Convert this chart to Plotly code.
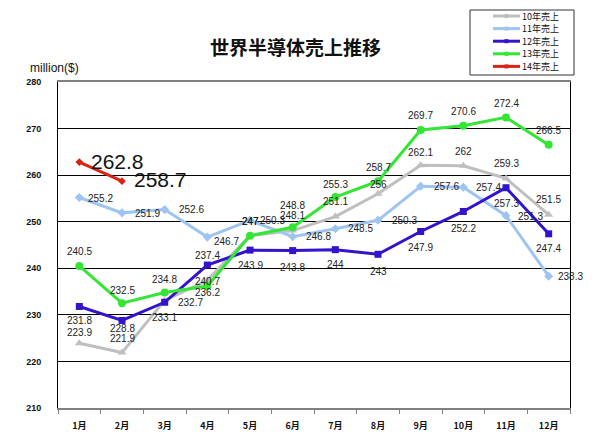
import plotly.graph_objects as go

months = ['1月', '2月', '3月', '4月', '5月', '6月', '7月', '8月', '9月', '10月', '11月', '12月']

sales_10 = [223.9, 221.9, 233.1, 237.4, 247.0, 248.1, 251.1, 256.0, 262.1, 262.0, 259.3, 251.5]
sales_11 = [255.2, 251.9, 252.6, 246.7, 250.3, 246.8, 248.5, 250.3, 257.6, 257.4, 251.3, 238.3]
sales_12 = [231.8, 228.8, 232.7, 240.7, 243.9, 243.8, 244.0, 243.0, 247.9, 252.2, 257.3, 247.4]
sales_13 = [240.5, 232.5, 234.8, 236.2, 247.0, 248.8, 255.3, 258.7, 269.7, 270.6, 272.4, 266.5]
sales_14 = [262.8, 258.7]

series_names = ['10年売上', '11年売上', '12年売上', '13年売上', '14年売上']

W, H = 600, 443
L, R, T, B = 58, 30, 82, 35
PW, PH = W - L - R, H - T - B


def px_x(x):
    return (x - L) / PW


def px_y(y):
    return (H - B - y) / PH


def fmt(v):
    return ('%.1f' % v).rstrip('0').rstrip('.')


num_font = 'Liberation Sans Narrow, Liberation Sans, Arial, sans-serif'
jp_font = 'Noto Sans CJK JP, sans-serif'

# смещения подписей в пикселях: (dx, dy, якорь); dy вниз положительный
C, RT = 'center', 'left'
off_10 = [(0, -11, C), (0, -14, C), (0, 17, C), (0, -25, C), (0, -14, C), (0, -15, C),
          (0, -15, C), (0, -9, C), (0, -13, C), (0, -14, C), (0, -15, C), (0, -15, C)]
off_11 = [(7, 1, RT), (11, 1, RT), (12, 0, RT), (5, 4, RT), (8, 0, RT), (11, 0, RT),
          (11, 0, RT), (12, 0, RT), (11, 0, RT), (11, 0, RT), (10, 1, RT), (7, 0, RT)]
off_12 = [(0, 14, C), (0, 8, C), (11, 0, RT), (0, 16, C), (0, 15, C), (0, 17, C),
          (0, 15, C), (0, 17, C), (0, 16, C), (0, 17, C), (0, 16, C), (0, 15, C)]
off_13 = [(0, -14, C), (0, -13, C), (0, -13, C), (0, 7, C), (0, -14, C), (0, -22, C),
          (0, -13, C), (0, -14, C), (0, -14, C), (0, -14, C), (0, -14, C), (0, -14, C)]
off_14 = [(10, -1, RT), (10, -2, RT)]

styles = [
    dict(data=sales_10, color='#bfbfbf', symbol='triangle-up', size=8, off=off_10),
    dict(data=sales_11, color='#9ec4f2', symbol='diamond', size=7, off=off_11),
    dict(data=sales_12, color='#3314cc', symbol='square', size=7, off=off_12),
    dict(data=sales_13, color='#33e633', symbol='circle', size=8, off=off_13),
    dict(data=sales_14, color='#dd2211', symbol='diamond', size=6, off=off_14),
]

fig = go.Figure()
annotations = []

for i, (st, name) in enumerate(zip(styles, series_names)):
    n = len(st['data'])
    fig.add_trace(go.Scatter(
        x=months[:n], y=st['data'], mode='lines+markers', name=name,
        line=dict(color=st['color'], width=3),
        marker=dict(symbol=st['symbol'], size=st['size'], color=st['color']),
        showlegend=False, cliponaxis=False
    ))
    big = i == 4
    for m, v, (dx, dy, anc) in zip(months[:n], st['data'], st['off']):
        annotations.append(dict(
            x=m, y=v, xref='x', yref='y', text=fmt(v), showarrow=False,
            xanchor=anc, yanchor='middle', xshift=dx, yshift=-dy,
            font=dict(family='Liberation Sans, Arial' if big else num_font,
                      size=21 if big else 10, color='#111' if big else '#222')
        ))

# легенда
shapes = [dict(type='rect', xref='paper', yref='paper',
               x0=px_x(470), x1=px_x(574), y0=px_y(75), y1=px_y(10),
               line=dict(color='#333', width=1), fillcolor='white')]
for i, (name, st) in enumerate(zip(series_names, styles)):
    yy = 16 + i * 12.6
    c = st['color']
    shapes.append(dict(type='line', xref='paper', yref='paper',
                       x0=px_x(493), x1=px_x(520), y0=px_y(yy), y1=px_y(yy),
                       line=dict(color=c, width=3)))
    shapes.append(dict(type='rect', xref='paper', yref='paper',
                       x0=px_x(504.5), x1=px_x(508.5), y0=px_y(yy + 2), y1=px_y(yy - 2),
                       line=dict(width=0), fillcolor=c))
    annotations.append(dict(xref='paper', yref='paper', x=px_x(520), y=px_y(yy),
                            xanchor='left', yanchor='middle', showarrow=False,
                            text=name, font=dict(family=jp_font, size=9, color='#111')))

annotations.append(dict(xref='paper', yref='paper', x=px_x(28), y=px_y(68),
                        xanchor='left', yanchor='middle', showarrow=False,
                        text='million($)', font=dict(family='Liberation Sans, Arial', size=12, color='#111')))
annotations.append(dict(xref='paper', yref='paper', x=px_x(295), y=px_y(47),
                        xanchor='center', yanchor='middle', showarrow=False,
                        text='世界半導体売上推移', font=dict(family=jp_font, size=19, color='#111', weight='bold')))

fig.update_layout(
    width=W, height=H,
    margin=dict(l=L, r=R, t=T, b=B),
    plot_bgcolor='white', paper_bgcolor='white',
    shapes=shapes, annotations=annotations,
    showlegend=False,
    font=dict(family=num_font, color='#111'),
)

fig.update_xaxes(
    type='category', range=[-0.5, 11.5],
    showline=True, linecolor='#808080', linewidth=2, mirror=True,
    ticks='outside', ticklen=4, tickcolor='#808080', tickson='boundaries',
    showgrid=False, ticklabelstandoff=8,
    tickfont=dict(family=jp_font, size=9, color='#111', weight='bold'),
)
fig.update_yaxes(
    range=[210, 280], dtick=10,
    showline=True, linecolor='#000', linewidth=1, mirror=True,
    showgrid=True, gridcolor='#000', gridwidth=1, zeroline=False,
    ticks='', ticklabelstandoff=14,
    tickfont=dict(family='Liberation Sans, Arial', size=9, color='#111', weight='bold'),
)

fig.write_html('out.html', config={'displayModeBar': False},
               post_script="document.body.style.margin='0px';")
